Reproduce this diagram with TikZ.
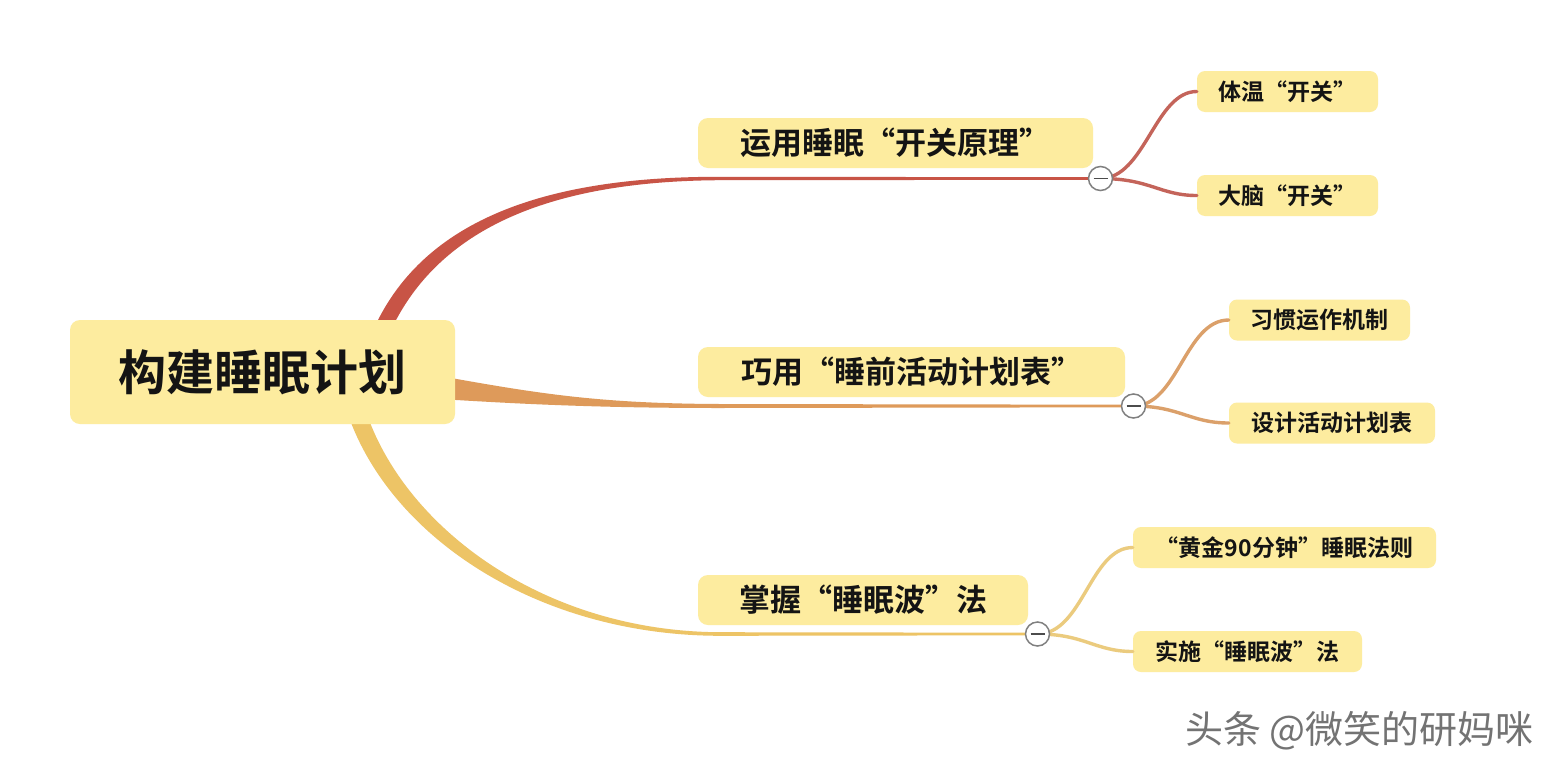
\documentclass[tikz,border=0pt]{standalone}
\usepackage{fontspec}
\setmainfont{Noto Sans CJK SC}[BoldFont={Noto Sans CJK SC Bold}]
\definecolor{nodefill}{HTML}{FDEC9F}
\definecolor{redmain}{HTML}{C85446}
\definecolor{redsub}{HTML}{C4645A}
\definecolor{orgmain}{HTML}{DE9A5A}
\definecolor{orgsub}{HTML}{DBA06A}
\definecolor{yelmain}{HTML}{EDC466}
\definecolor{yelsub}{HTML}{EBCB7E}
\definecolor{txt}{HTML}{141414}
\tikzset{
  rootbox/.style={fill=nodefill, rounded corners=10pt, minimum width=385pt, minimum height=104pt, inner sep=0pt,
    text=txt, font=\bfseries\fontsize{48}{50}\selectfont},
  branchbox/.style={fill=nodefill, rounded corners=10pt, minimum height=50pt, inner sep=0pt,
    text=txt, font=\bfseries\fontsize{31}{33}\selectfont},
  leafbox/.style={fill=nodefill, rounded corners=8pt, minimum height=41pt, inner sep=0pt,
    text=txt, font=\bfseries\fontsize{23}{25}\selectfont},
  collapse/.style={circle, draw=black!50, fill=white, line width=1.5pt, minimum size=24pt, inner sep=0pt,
    path picture={\draw[line width=1.6pt, black!70] ([xshift=-7pt]path picture bounding box.center) -- ([xshift=7pt]path picture bounding box.center);}},
  subline/.style={line width=3.4pt, line cap=round},
}
\begin{document}
\begin{tikzpicture}[x=1pt, y=-1pt]
\useasboundingbox (0,0) rectangle (1560,774);
\fill[white] (0,0) rectangle (1560,774);

% tapered main branches
\fill[redmain] (377,322) .. controls (430,215) and (555,176.5) .. (720,176.8) -- (1100,177.2)
   -- (1100,179.8) -- (720,180.2) .. controls (562,181) and (447,222) .. (395,322) -- cycle;
\fill[orgmain] (440,376) .. controls (540,394) and (600,403.5) .. (720,404) -- (1133,404.7)
   -- (1133,407.3) -- (720,408) .. controls (600,408) and (520,404) .. (440,399) -- cycle;
\fill[yelmain] (350,420) .. controls (395,540) and (540,635.5) .. (720,635.8) -- (1037,635.3)
   -- (1037,632.7) -- (720,632.2) .. controls (548,631.5) and (412,533) .. (369,420) -- cycle;

% nodes
\node[rootbox] (root) at (262.5,372) {构建睡眠计划};
\node[branchbox, minimum width=395pt] (b1) at (895.5,143) {运用睡眠“开关原理”};
\node[branchbox, minimum width=427pt] (b2) at (911.5,372) {巧用“睡前活动计划表”};
\node[branchbox, minimum width=330pt] (b3) at (863,600) {掌握“睡眠波”法};

\node[leafbox, minimum width=181pt] (l1a) at (1287.5,91.5) {体温“开关”};
\node[leafbox, minimum width=181pt] (l1b) at (1287.5,195.5) {大脑“开关”};
\node[leafbox, minimum width=181pt] (l2a) at (1319.5,320) {习惯运作机制};
\node[leafbox, minimum width=206pt] (l2b) at (1332,423) {设计活动计划表};
\node[leafbox, minimum width=303pt] (l3a) at (1284.5,547.5) {“黄金90分钟”睡眠法则};
\node[leafbox, minimum width=229pt] (l3b) at (1247.5,651.5) {实施“睡眠波”法};

\coordinate (k1) at (1100.5,178.5);
\coordinate (k2) at (1133.5,406);
\coordinate (k3) at (1037.5,634);

% sub branches
\draw[subline, redsub] (k1) .. controls (1145,178.5) and (1155,91.5) .. (l1a.west);
\draw[subline, redsub] (k1) .. controls (1150,178.5) and (1160,195.5) .. (l1b.west);
\draw[subline, orgsub] (k2) .. controls (1178,406) and (1185,320) .. (l2a.west);
\draw[subline, orgsub] (k2) .. controls (1180,406) and (1190,423) .. (l2b.west);
\draw[subline, yelsub] (k3) .. controls (1083,634) and (1090,547.5) .. (l3a.west);
\draw[subline, yelsub] (k3) .. controls (1085,634) and (1095,651.5) .. (l3b.west);

% collapse markers
\node[collapse] (c1) at (k1) {};
\node[collapse] (c2) at (k2) {};
\node[collapse] (c3) at (k3) {};

% watermark
\node[text=black!55, font=\fontsize{38}{40}\selectfont, anchor=east] (wm) at (1537,731) {头条 @微笑的研妈咪};
\end{tikzpicture}
\end{document}
